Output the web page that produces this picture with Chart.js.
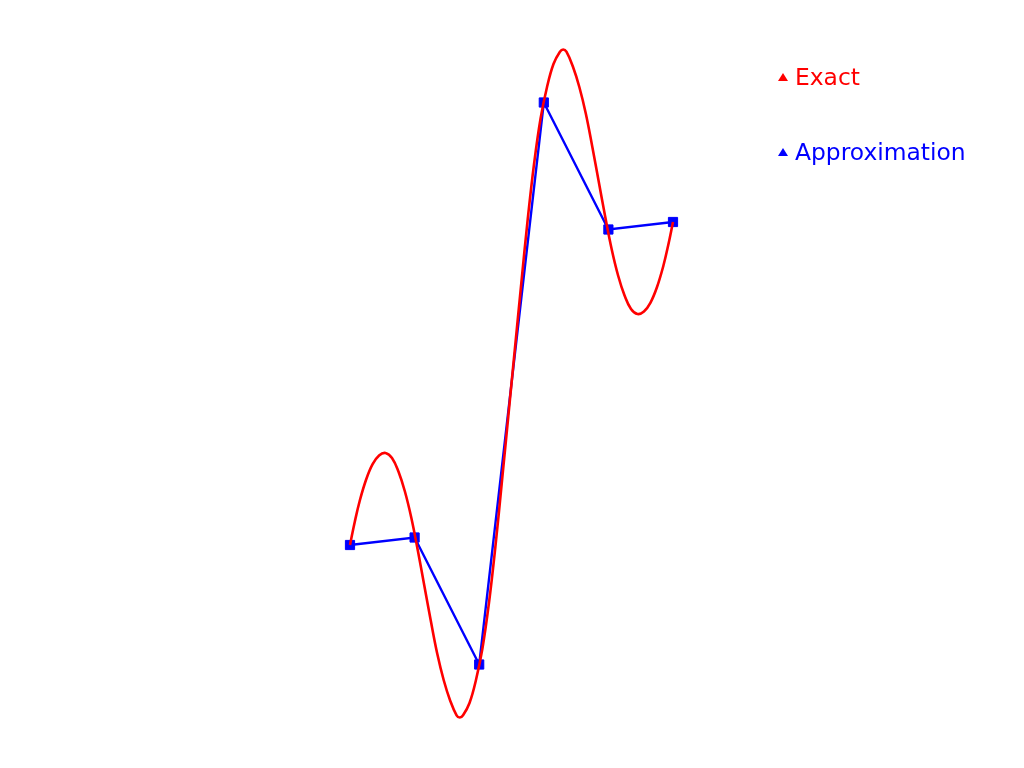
<!DOCTYPE html>
<html>
<head>
<meta charset="utf-8">
<script src="https://cdn.jsdelivr.net/npm/chart.js@4"></script>
<style>
html,body{margin:0;padding:0;background:#fff;}
#wrap{position:relative;width:1024px;height:768px;overflow:hidden;}
#c{position:absolute;left:0;top:0;}
.leg{position:absolute;left:778px;height:24px;width:240px;font-family:"DejaVu Sans";font-size:23.4px;line-height:24px;white-space:nowrap;}
.leg .tri{position:absolute;left:0;top:8px;width:0;height:0;border-left:5.5px solid transparent;border-right:5.5px solid transparent;border-bottom-width:8px;border-bottom-style:solid;}
.leg .txt{position:absolute;left:17px;top:0;}
</style>
</head>
<body>
<div id="wrap"><canvas id="c" width="1024" height="768"></canvas></div>
<script>
// Exact curve
const exactX = [-1, -0.97, -0.94, -0.9, -0.86, -0.82, -0.78, -0.74, -0.7, -0.66, -0.62, -0.58, -0.54, -0.5, -0.46, -0.42, -0.38, -0.34, -0.32, -0.3, -0.26, -0.22, -0.18, -0.14, -0.1, -0.06, -0.02, 0, 0.02, 0.06, 0.1, 0.14, 0.18, 0.22, 0.26, 0.3, 0.32, 0.34, 0.38, 0.42, 0.46, 0.5, 0.54, 0.58, 0.62, 0.66, 0.7, 0.74, 0.78, 0.82, 0.86, 0.9, 0.94, 0.97, 1];
const exactY = [-1.615, -1.38, -1.175, -0.96, -0.807, -0.72, -0.695, -0.745, -0.88, -1.08, -1.345, -1.67, -2.02, -2.37, -2.70, -2.965, -3.17, -3.318, -3.34, -3.318, -3.195, -2.965, -2.65, -2.20, -1.635, -0.99, -0.33, 0, 0.33, 0.99, 1.635, 2.20, 2.65, 2.965, 3.195, 3.318, 3.34, 3.318, 3.17, 2.965, 2.70, 2.37, 2.02, 1.67, 1.345, 1.08, 0.88, 0.745, 0.695, 0.72, 0.807, 0.96, 1.175, 1.38, 1.615];
// Approximation nodes
const approxX = [-1, -0.6, -0.2, 0.2, 0.6, 1];
const approxY = [-1.615, -1.54, -2.81, 2.81, 1.54, 1.615];
const seriesLabels = ["Exact", "Approximation"];
const seriesColors = ["#ff0000", "#0000ff"];

const toPts = (xs, ys) => xs.map((x, i) => ({x: x, y: ys[i]}));

const chart = new Chart(document.getElementById('c'), {
  type: 'line',
  data: {
    datasets: [
      {
        label: seriesLabels[0],
        data: toPts(exactX, exactY),
        borderColor: seriesColors[0],
        backgroundColor: seriesColors[0],
        borderWidth: 2.6,
        pointRadius: 0,
        tension: 0.4,
        fill: false,
        clip: false
      },
      {
        label: seriesLabels[1],
        data: toPts(approxX, approxY),
        borderColor: seriesColors[1],
        backgroundColor: seriesColors[1],
        borderWidth: 2.4,
        tension: 0,
        pointStyle: 'rect',
        pointRadius: 6.5,
        pointBackgroundColor: seriesColors[1],
        pointBorderColor: seriesColors[1],
        pointBorderWidth: 1,
        fill: false,
        clip: false
      }
    ]
  },
  options: {
    responsive: false,
    animation: false,
    events: [],
    layout: {padding: {left: 350, right: 351, top: 43.5, bottom: 44.5}},
    scales: {
      x: {type: 'linear', min: -1, max: 1, display: false},
      y: {type: 'linear', min: -3.4, max: 3.4, display: false}
    },
    plugins: {legend: {display: false}, tooltip: {enabled: false}}
  }
});

// HTML legend built from datasets
const wrap = document.getElementById('wrap');
chart.data.datasets.forEach((ds, i) => {
  const item = document.createElement('div');
  item.className = 'leg';
  item.style.top = (65 + 75 * i) + 'px';
  item.style.color = ds.borderColor;
  const tri = document.createElement('span');
  tri.className = 'tri';
  tri.style.borderBottomColor = ds.borderColor;
  const txt = document.createElement('span');
  txt.className = 'txt';
  txt.textContent = ds.label;
  item.appendChild(tri);
  item.appendChild(txt);
  wrap.appendChild(item);
});
</script>
</body>
</html>
